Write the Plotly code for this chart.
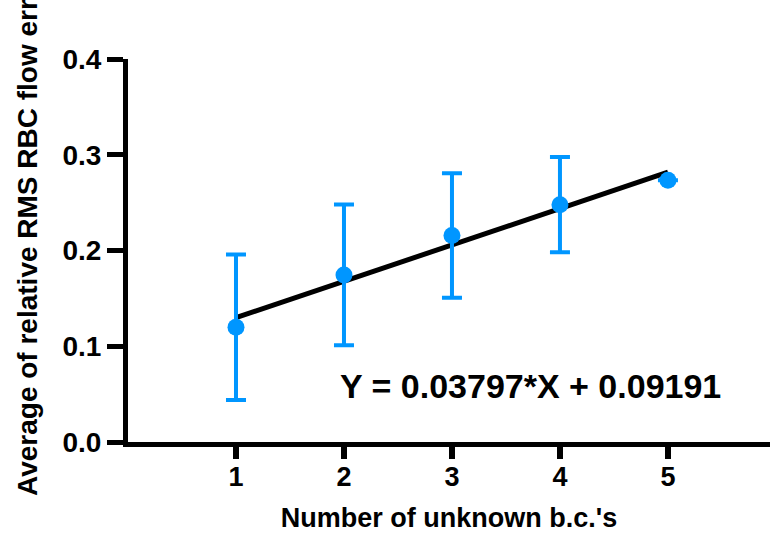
import plotly.graph_objects as go

# Data
x_vals = [1, 2, 3, 4, 5]
y_means = [0.1198, 0.1745, 0.2156, 0.2479, 0.2733]
y_err = [0.076, 0.0735, 0.065, 0.0498, None]
slope = 0.03797
intercept = 0.09191
x_ticks = [1, 2, 3, 4, 5]
y_ticks = [0.0, 0.1, 0.2, 0.3, 0.4]
y_tick_labels = ["0.0", "0.1", "0.2", "0.3", "0.4"]
x_title = "Number of unknown b.c.'s"
y_title = "Average of relative RMS RBC flow error"
eq_text = "Y = 0.03797*X + 0.09191"

BLUE = "rgb(0,150,255)"
FONT = "Liberation Sans, Arial, Helvetica, sans-serif"

W, H = 770, 535
ML, MR, MT, MB = 128, 0, 59, 93

fit_x = [x_vals[0], x_vals[-1]]
fit_y = [slope * v + intercept for v in fit_x]

fig = go.Figure()
fig.add_trace(go.Scatter(
    x=fit_x, y=fit_y, mode="lines",
    line=dict(color="black", width=5), showlegend=False, hoverinfo="skip"))
fig.add_trace(go.Scatter(
    x=x_vals, y=y_means, mode="markers",
    marker=dict(color=BLUE, size=17),
    error_y=dict(type="data", array=y_err, visible=True, color=BLUE,
                 thickness=4, width=10),
    showlegend=False))

fig.add_annotation(
    x=3.73, y=0.058, xref="x", yref="y", text=eq_text, showarrow=False,
    font=dict(family=FONT, size=34, color="black", weight="bold"))

# y-axis title placed as rotated annotation (pixel centre ~ (28, 234))
fig.add_annotation(
    x=(28 - ML) / (W - ML - MR), xref="paper", xanchor="center",
    y=((H - MB) - 234) / (H - MT - MB), yref="paper", yanchor="middle",
    text=y_title, textangle=-90, showarrow=False,
    font=dict(family=FONT, size=28, color="black", weight="bold"))

fig.update_layout(
    width=W, height=H,
    margin=dict(l=ML, r=MR, t=MT, b=MB),
    paper_bgcolor="white", plot_bgcolor="white",
    xaxis=dict(
        range=[0, 5.945], tickvals=x_ticks, ticktext=[str(v) for v in x_ticks],
        showgrid=False, zeroline=False, showline=True, linecolor="black",
        linewidth=5, ticks="outside", ticklen=12, tickwidth=6, tickcolor="black",
        ticklabelstandoff=-5,
        tickfont=dict(family=FONT, size=27, color="black", weight="bold"),
        title=dict(text=x_title, standoff=18,
                   font=dict(family=FONT, size=27, color="black", weight="bold"))),
    yaxis=dict(
        range=[0, 0.4], tickvals=y_ticks, ticktext=y_tick_labels,
        showgrid=False, zeroline=False, showline=True, linecolor="black",
        linewidth=5, ticks="outside", ticklen=16, tickwidth=5, tickcolor="black",
        tickfont=dict(family=FONT, size=28, color="black", weight="bold")),
)

fig.write_html("out.html")
